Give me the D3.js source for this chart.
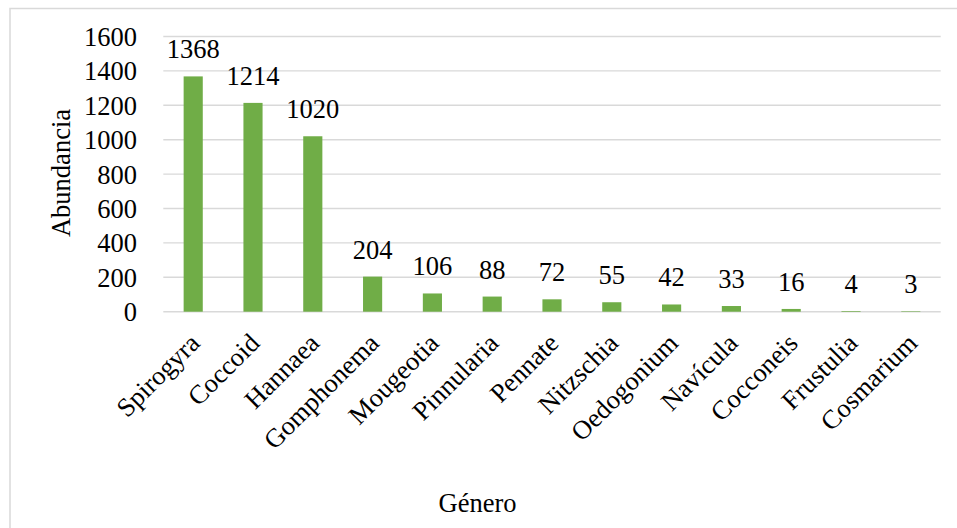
<!DOCTYPE html>
<html>
<head>
<meta charset="utf-8">
<script src="https://cdn.jsdelivr.net/npm/d3@7"></script>
<style>
  html, body { margin: 0; padding: 0; background: #ffffff; }
  svg { display: block; }
  text { font-family: "Liberation Serif", "Times New Roman", serif; fill: #000; }
</style>
</head>
<body>
<svg id="chart" width="957" height="528"></svg>
<script>
const categories = ["Spirogyra", "Coccoid", "Hannaea", "Gomphonema", "Mougeotia", "Pinnularia", "Pennate", "Nitzschia", "Oedogonium", "Navícula", "Cocconeis", "Frustulia", "Cosmarium"];
const abundance = [1368, 1214, 1020, 204, 106, 88, 72, 55, 42, 33, 16, 4, 3];
const yTicks = [0, 200, 400, 600, 800, 1000, 1200, 1400, 1600];
const xTitle = "Género";
const yTitle = "Abundancia";

const svg = d3.select("#chart");
const fs = 26.5;

// outer frame (extends beyond the visible area on right and bottom)
svg.append("rect")
  .attr("x", 10).attr("y", 8.5)
  .attr("width", 980).attr("height", 560)
  .attr("fill", "#fff")
  .attr("stroke", "#d9d9d9")
  .attr("stroke-width", 1.5);

const pLeft = 163.3, pRight = 940.7, pTop = 36.5, pBottom = 311.7;

const x = d3.scaleBand().domain(categories).range([pLeft, pRight]).paddingInner(0.68).paddingOuter(0.34);
const y = d3.scaleLinear().domain([0, 1600]).range([pBottom, pTop]);

// gridlines
svg.append("g").selectAll("line").data(yTicks).join("line")
  .attr("x1", pLeft).attr("x2", pRight)
  .attr("y1", d => y(d)).attr("y2", d => y(d))
  .attr("stroke", "#d9d9d9").attr("stroke-width", 1.4);

// y tick labels via axis
const yAxis = svg.append("g")
  .attr("transform", `translate(${137},0)`)
  .call(d3.axisLeft(y).tickValues(yTicks).tickSize(0).tickPadding(0).tickFormat(d3.format("d")));
yAxis.select(".domain").remove();
yAxis.selectAll("text")
  .attr("font-size", fs)
  .attr("font-family", "Liberation Serif")
  .attr("fill", "#000")
  .attr("dy", "0.34em")
  .attr("x", 0);

// bars
svg.append("g").selectAll("rect").data(categories).join("rect")
  .attr("x", d => x(d))
  .attr("width", x.bandwidth())
  .attr("y", (d, i) => y(abundance[i]))
  .attr("height", (d, i) => y(0) - y(abundance[i]))
  .attr("fill", "#70ad47");

// value labels
svg.append("g").selectAll("text").data(categories).join("text")
  .attr("x", d => x(d) + x.bandwidth() / 2)
  .attr("y", (d, i) => y(abundance[i]) - 18)
  .attr("text-anchor", "middle")
  .attr("font-size", fs)
  .text((d, i) => abundance[i]);

// x axis labels (rotated)
const xAxis = svg.append("g")
  .attr("transform", `translate(0,${pBottom})`)
  .call(d3.axisBottom(x).tickSize(0).tickPadding(0));
xAxis.select(".domain").remove();
xAxis.selectAll("text")
  .attr("font-size", fs)
  .attr("font-family", "Liberation Serif")
  .attr("fill", "#000")
  .attr("text-anchor", "end")
  .attr("dy", 0)
  .attr("y", 0)
  .attr("transform", "translate(8,33) rotate(-45)");

// axis titles
svg.append("text")
  .attr("x", 477.5).attr("y", 512)
  .attr("text-anchor", "middle")
  .attr("font-size", fs)
  .text(xTitle);

svg.append("text")
  .attr("transform", `translate(70,173) rotate(-90)`)
  .attr("text-anchor", "middle")
  .attr("font-size", fs)
  .text(yTitle);
</script>
</body>
</html>
